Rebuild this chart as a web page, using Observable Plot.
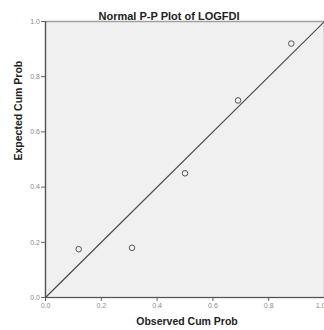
<!DOCTYPE html>
<html>
<head>
<meta charset="utf-8">
<script src="https://cdn.jsdelivr.net/npm/d3@7"></script>
<script src="https://cdn.jsdelivr.net/npm/@observablehq/plot@0.6"></script>
<style>
  body { margin: 0; background: #fff; }
  svg { display: block; }
</style>
</head>
<body>
<div id="chart"></div>
<script>
// Normal P-P plot of LOGFDI: observed vs expected cumulative probability
const observed = [0.119, 0.31, 0.5, 0.69, 0.881];
const expected = [0.175, 0.18, 0.45, 0.714, 0.92];
const tickValues = [0, 0.2, 0.4, 0.6, 0.8, 1.0];
const diagonal = [0, 1];

const points = observed.map((o, i) => ({observed: o, expected: expected[i]}));
const fmt = d3.format(".1f");
const axisStyle = {
  tickFormat: fmt, tickSize: 4, tickPadding: 1.5,
  stroke: "#666", fill: "#8a8a8a", fontSize: 7, label: null
};

const chart = Plot.plot({
  width: 324,
  height: 330,
  marginTop: 21,
  marginBottom: 33,
  marginLeft: 45,
  marginRight: 0,
  style: {
    fontFamily: "'Liberation Sans', Arial, sans-serif",
    background: "#fff",
    overflow: "visible"
  },
  x: {domain: [0, 1]},
  y: {domain: [0, 1]},
  marks: [
    Plot.frame({fill: "#f0f0f0", stroke: "#a0a0a0", strokeWidth: 1.5}),
    // the last x label sits at the right edge, so it is anchored to its end
    Plot.axisX(tickValues.slice(0, -1), axisStyle),
    Plot.axisX(tickValues.slice(-1), {...axisStyle, textAnchor: "end", dx: 1}),
    Plot.axisY(tickValues, axisStyle),
    Plot.ruleX([0], {stroke: "#555", strokeWidth: 1.2}),
    Plot.ruleY([0], {stroke: "#555", strokeWidth: 1.2}),
    Plot.line(diagonal, {x: d => d, y: d => d, stroke: "#4a4a4a", strokeWidth: 1.2}),
    Plot.dot(points, {x: "observed", y: "expected", r: 2.8, stroke: "#555", fill: "none", strokeWidth: 1}),
    Plot.text(["Normal P-P Plot of LOGFDI"], {
      frameAnchor: "top", dy: -9, dx: -16,
      fontSize: 11, fontWeight: "bold", fill: "#222"
    }),
    Plot.text(["Observed Cum Prob"], {
      frameAnchor: "bottom", dy: 27, dx: 2,
      fontSize: 10.5, fontWeight: "bold", fill: "#222"
    }),
    Plot.text(["Expected Cum Prob"], {
      frameAnchor: "left", dx: -27, dy: 1, rotate: -90,
      fontSize: 10.5, fontWeight: "bold", fill: "#222"
    })
  ]
});

document.getElementById("chart").appendChild(chart);
</script>
</body>
</html>
